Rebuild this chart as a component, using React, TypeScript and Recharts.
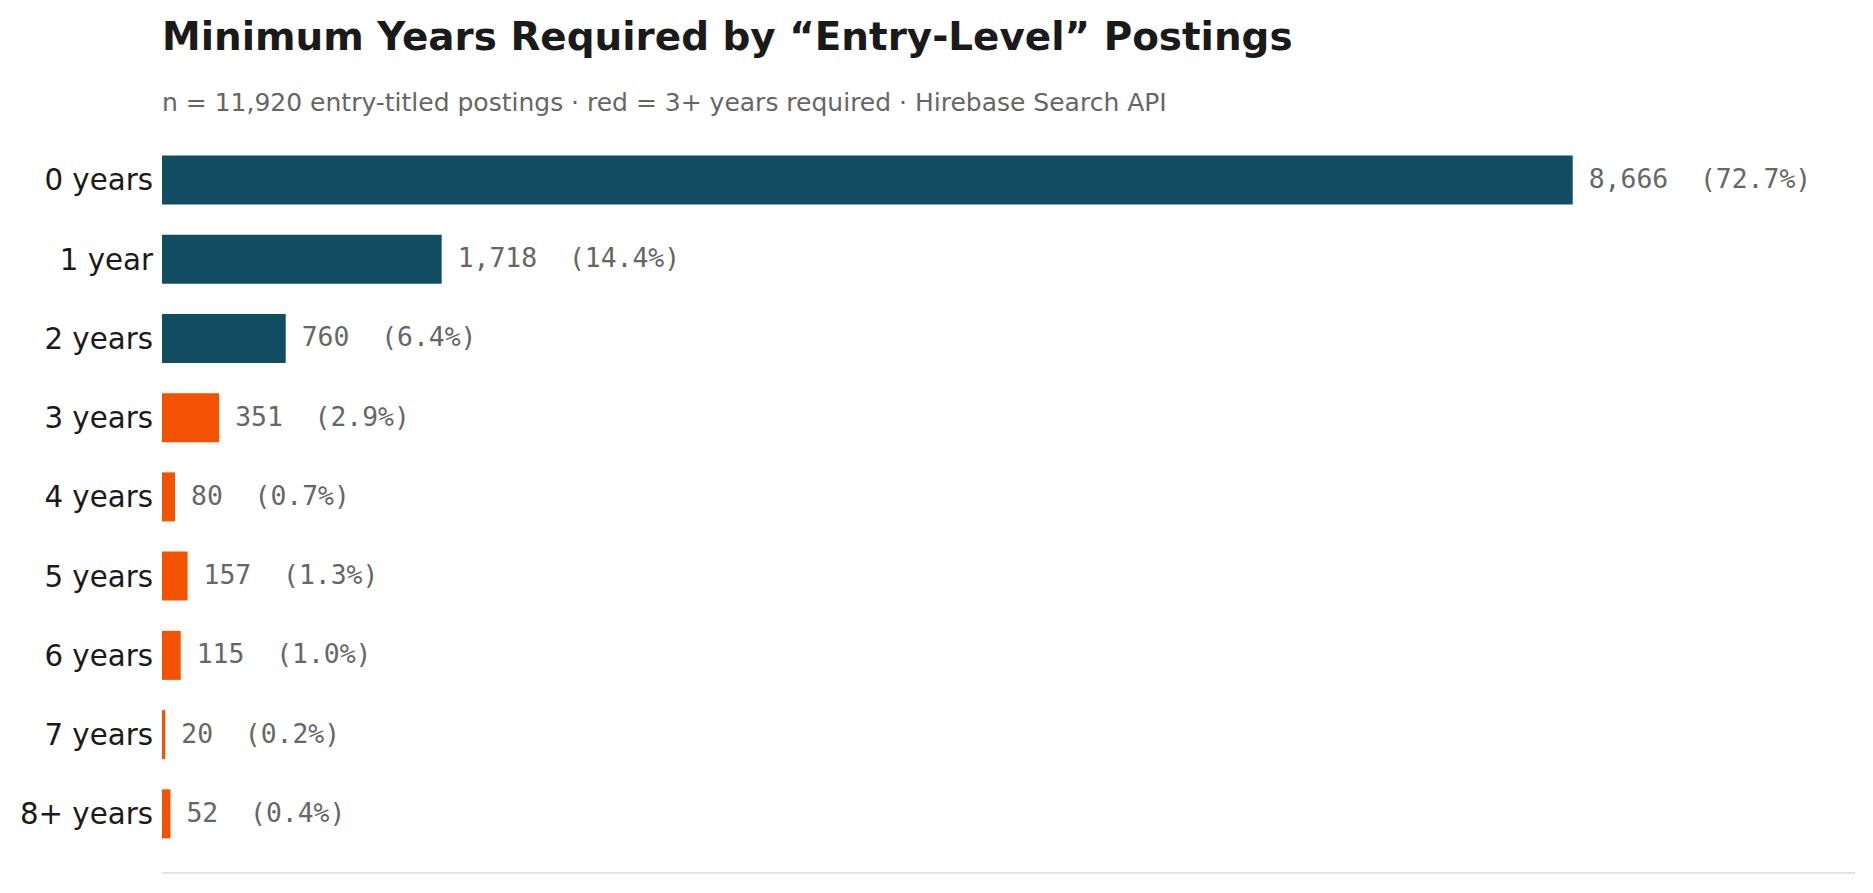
import React from 'react';
import { BarChart, Bar, XAxis, YAxis, Cell, LabelList } from 'recharts';

const CATEGORIES = ['0 years', '1 year', '2 years', '3 years', '4 years', '5 years', '6 years', '7 years', '8+ years'];
const COUNTS = [8666, 1718, 760, 351, 80, 157, 115, 20, 52];
const MIN_YEARS = [0, 1, 2, 3, 4, 5, 6, 7, 8];
const TOTAL = 11920;
const X_MAX = 10400;

const TEAL = '#114e63';
const ORANGE = '#f35200';

const data = CATEGORIES.map((label, i) => ({
  label,
  count: COUNTS[i],
  years: MIN_YEARS[i],
}));

const W = 1873;
const H = 893;

function ValueLabel(props: any) {
  const { x, y, width, height, value } = props;
  const pct = ((value / TOTAL) * 100).toFixed(1);
  return (
    <text
      x={x + width + 16}
      y={y + height / 2 + 8}
      fill="#666666"
      fontSize={26.4}
      fontFamily="'DejaVu Sans Mono', monospace"
      style={{ whiteSpace: 'pre' }}
    >
      {`${value.toLocaleString('en-US')}  (${pct}%)`}
    </text>
  );
}

export default function App() {
  return (
    <div style={{ position: 'absolute', left: 0, top: 0, width: W, height: H, background: '#fff' }}>
      <BarChart
        width={W}
        height={H}
        data={data}
        layout="vertical"
        margin={{ top: 121, right: 18, bottom: 10, left: 0 }}
      >
        <XAxis
          type="number"
          domain={[0, X_MAX]}
          allowDataOverflow
          tick={false}
          tickLine={false}
          height={10}
          axisLine={{ stroke: '#e3e3e3', strokeWidth: 2 }}
        />
        <YAxis
          type="category"
          dataKey="label"
          width={162}
          axisLine={false}
          tickLine={false}
          tickSize={0}
          tickMargin={9}
          padding={{ top: 19.4, bottom: 19.4 }}
          tick={{ fontSize: 29.3, fill: '#1a1a1a', fontFamily: "'DejaVu Sans', sans-serif" }}
          interval={0}
        />
        <Bar dataKey="count" barSize={49} isAnimationActive={false}>
          {data.map((d, i) => (
            <Cell key={i} fill={d.years >= 3 ? ORANGE : TEAL} />
          ))}
          <LabelList dataKey="count" content={ValueLabel} />
        </Bar>
      </BarChart>
      <svg width={W} height={130} style={{ position: 'absolute', left: 0, top: 0, pointerEvents: 'none' }}>
        <text x={162} y={50} fontSize={38.9} fontWeight="bold" fill="#1a1a1a" fontFamily="'DejaVu Sans', sans-serif">
          Minimum Years Required by “Entry-Level” Postings
        </text>
        <text x={162} y={111} fontSize={25} fill="#666666" fontFamily="'DejaVu Sans', sans-serif">
          n = 11,920 entry-titled postings · red = 3+ years required · Hirebase Search API
        </text>
      </svg>
    </div>
  );
}
